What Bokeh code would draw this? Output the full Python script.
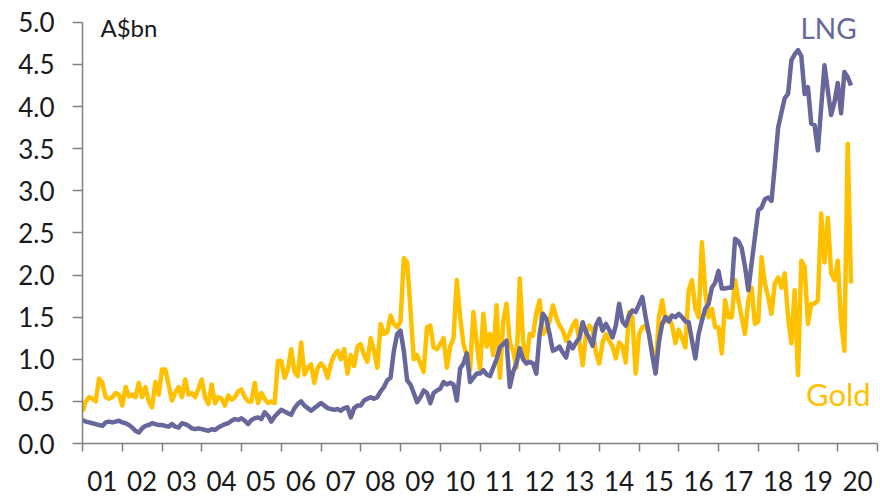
from bokeh.plotting import figure
from bokeh.models import Range1d, FixedTicker, NumeralTickFormatter, Label
from bokeh.embed import file_html
from bokeh.resources import INLINE

# Monthly exports, A$bn, Jan 2001 - May 2020
lng = [
    0.28,0.26,0.25,0.24,0.23,0.22,0.21,0.25,0.26,0.25,0.26,0.27,  # 2001
    0.25,0.24,0.22,0.19,0.15,0.13,0.18,0.21,0.22,0.24,0.23,0.22,  # 2002
    0.22,0.21,0.20,0.23,0.20,0.19,0.24,0.23,0.21,0.18,0.17,0.18,  # 2003
    0.17,0.16,0.15,0.17,0.16,0.19,0.21,0.23,0.24,0.27,0.29,0.28,  # 2004
    0.30,0.27,0.23,0.28,0.30,0.31,0.29,0.37,0.33,0.26,0.32,0.36,  # 2005
    0.40,0.38,0.36,0.34,0.42,0.47,0.50,0.45,0.42,0.39,0.42,0.45,  # 2006
    0.48,0.45,0.42,0.41,0.40,0.41,0.39,0.42,0.43,0.31,0.42,0.45,  # 2007
    0.45,0.51,0.53,0.55,0.53,0.55,0.62,0.67,0.75,0.78,1.10,1.30,  # 2008
    1.34,1.10,0.75,0.70,0.60,0.49,0.55,0.63,0.60,0.48,0.60,0.63,  # 2009
    0.65,0.73,0.70,0.72,0.70,0.51,0.89,0.95,1.07,0.73,0.78,0.83,  # 2010
    0.83,0.87,0.82,0.80,0.90,1.00,1.14,1.18,1.22,0.67,0.85,0.95,  # 2011
    1.13,1.00,0.95,0.97,0.95,0.83,1.30,1.54,1.48,1.30,1.10,1.12,  # 2012
    1.15,1.08,1.02,1.20,1.13,1.20,1.25,1.44,1.32,1.25,1.16,1.40,  # 2013
    1.48,1.34,1.42,1.35,1.26,1.40,1.66,1.45,1.40,1.52,1.58,1.56,  # 2014
    1.65,1.74,1.50,1.30,1.05,0.83,1.20,1.42,1.50,1.45,1.52,1.50,  # 2015
    1.54,1.50,1.45,1.44,1.22,1.01,1.30,1.46,1.60,1.66,1.85,1.91,  # 2016
    2.05,1.84,1.84,1.85,1.85,2.43,2.40,2.32,2.10,1.82,2.14,2.45,  # 2017
    2.77,2.80,2.90,2.92,2.88,3.30,3.75,3.93,4.10,4.15,4.55,4.62,  # 2018
    4.67,4.60,4.15,4.23,3.80,3.78,3.48,3.99,4.49,4.19,3.90,4.05,  # 2019
    4.28,3.92,4.41,4.35,4.25,                                     # 2020
]

gold = [
    0.38,0.50,0.55,0.53,0.50,0.77,0.72,0.55,0.53,0.55,0.60,0.58,  # 2001
    0.45,0.67,0.56,0.58,0.55,0.72,0.55,0.67,0.50,0.43,0.73,0.58,  # 2002
    0.88,0.88,0.70,0.51,0.60,0.67,0.55,0.76,0.58,0.60,0.55,0.65,  # 2003
    0.76,0.55,0.47,0.70,0.48,0.55,0.53,0.45,0.57,0.52,0.55,0.62,  # 2004
    0.64,0.55,0.50,0.50,0.72,0.48,0.60,0.53,0.48,0.50,0.48,0.98,  # 2005
    0.98,0.78,0.88,1.12,0.85,0.80,1.20,0.82,0.90,0.94,0.72,0.90,  # 2006
    0.95,0.90,0.78,0.95,1.05,1.10,1.00,1.12,0.83,1.05,0.92,1.15,  # 2007
    1.18,1.05,0.97,1.25,1.10,0.90,1.42,1.30,1.32,1.52,1.42,1.38,  # 2008
    1.45,2.20,2.15,1.60,1.00,1.05,0.95,0.85,1.38,1.40,1.14,1.12,  # 2009
    1.18,1.25,0.90,1.15,1.25,1.94,1.50,1.18,1.05,0.87,1.56,1.20,  # 2010
    0.87,1.54,1.15,1.30,1.05,1.64,0.78,1.45,1.66,1.20,1.10,0.90,  # 2011
    1.96,1.22,0.95,1.30,1.28,1.55,1.70,1.30,1.35,1.45,1.64,1.50,  # 2012
    1.40,1.34,1.22,1.30,1.40,1.46,1.20,0.93,1.30,1.40,1.35,1.08,  # 2013
    0.95,1.20,1.30,1.22,1.15,1.01,1.20,1.15,0.96,1.56,1.50,0.83,  # 2014
    1.30,1.38,1.40,1.30,1.10,0.85,1.50,1.70,1.45,1.50,1.40,1.19,  # 2015
    1.35,1.25,1.14,1.82,1.94,1.60,1.50,2.39,1.80,1.50,1.60,1.38,  # 2016
    1.38,1.07,1.70,1.50,1.50,1.94,1.70,1.50,1.30,1.70,1.85,1.42,  # 2017
    1.45,2.21,1.90,1.74,1.54,1.90,1.97,1.85,2.02,1.50,1.19,1.82,  # 2018
    0.81,2.17,2.10,1.42,1.66,1.66,1.70,2.73,2.15,2.68,2.02,1.94,  # 2019
    2.17,1.45,1.10,3.56,1.90,                                     # 2020
]

years = list(range(2001, 2021))
year_labels = [f"{y % 100:02d}" for y in years]
y_ticks = [0.0, 0.5, 1.0, 1.5, 2.0, 2.5, 3.0, 3.5, 4.0, 4.5, 5.0]

t = [2001 + i / 12 for i in range(len(lng))]

LNG_COLOR = "#67679b"
GOLD_COLOR = "#ffc000"
AXIS_COLOR = "#808080"
FONT = "Lato"

# y range extends a little above 5.0 so the top labels are not clipped;
# the axis itself stops at 5.0
p = figure(width=880, height=496, output_backend="svg", toolbar_location=None,
           x_range=Range1d(2001, 2021), y_range=Range1d(0, 5.2),
           min_border_left=82, min_border_right=3, min_border_top=5, min_border_bottom=53)
p.outline_line_color = None
p.grid.visible = False
p.background_fill_color = "white"
p.border_fill_color = "white"

p.line(t, gold, line_color=GOLD_COLOR, line_width=4.5, line_join="round")
p.line(t, lng, line_color=LNG_COLOR, line_width=4.5, line_join="round")

# y axis
p.yaxis.bounds = (0, 5)
p.yaxis.ticker = FixedTicker(ticks=y_ticks)
p.yaxis.formatter = NumeralTickFormatter(format="0.0")
p.yaxis.axis_line_color = AXIS_COLOR
p.yaxis.axis_line_width = 1.5
p.yaxis.major_tick_line_color = AXIS_COLOR
p.yaxis.major_tick_line_width = 1.5
p.yaxis.major_tick_out = 10
p.yaxis.major_tick_in = 0
p.yaxis.minor_tick_line_color = None
p.yaxis.major_label_standoff = 18
p.yaxis.major_label_text_font = FONT
p.yaxis.major_label_text_font_size = "26px"
p.yaxis.major_label_text_color = "#1a1a1a"

# x axis: labels at year centres, tick marks at year boundaries
centers = [y + 0.5 for y in years]
p.xaxis.ticker = FixedTicker(ticks=centers, minor_ticks=years + [2021])
p.xaxis.major_label_overrides = {c: lab for c, lab in zip(centers, year_labels)}
p.xaxis.axis_line_color = AXIS_COLOR
p.xaxis.axis_line_width = 1.5
p.xaxis.major_tick_line_color = None
p.xaxis.major_tick_out = 0
p.xaxis.major_tick_in = 0
p.xaxis.minor_tick_line_color = AXIS_COLOR
p.xaxis.minor_tick_line_width = 1.5
p.xaxis.minor_tick_out = 8
p.xaxis.minor_tick_in = 0
p.xaxis.major_label_standoff = 19
p.xaxis.major_label_text_font = FONT
p.xaxis.major_label_text_font_size = "26px"
p.xaxis.major_label_text_color = "#1a1a1a"

p.add_layout(Label(x=2001.45, y=4.94, text="A$bn", text_font=FONT, text_font_size="24px",
                   text_color="#1a1a1a", text_baseline="middle"))
p.add_layout(Label(x=2019.06, y=4.93, text="LNG", text_font=FONT, text_font_size="28px",
                   text_color=LNG_COLOR, text_baseline="middle"))
p.add_layout(Label(x=2019.2, y=0.59, text="Gold", text_font=FONT, text_font_size="31px",
                   text_color=GOLD_COLOR, text_baseline="middle"))

open("out.html", "w").write(file_html(p, INLINE))
